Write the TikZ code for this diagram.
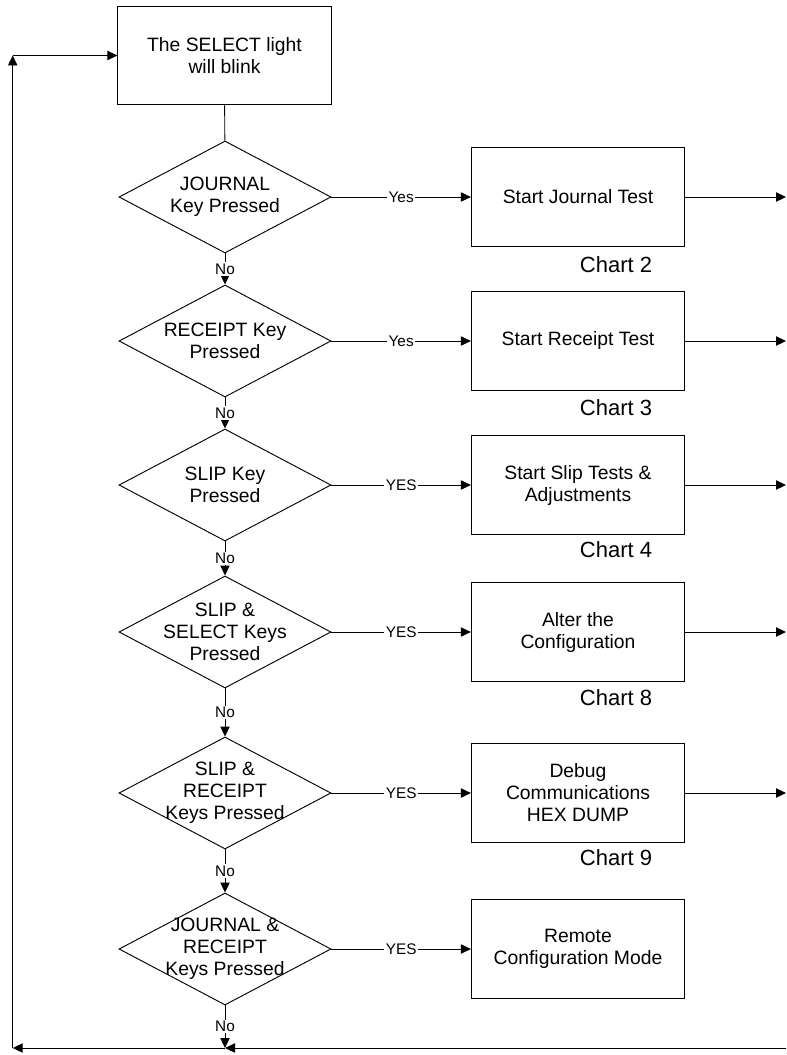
\documentclass[tikz,border=0pt]{standalone}
\usepackage{fontspec}
\setmainfont{Liberation Sans}
\usetikzlibrary{shapes.geometric, arrows.meta}

\tikzset{
	box/.style={draw, rectangle, minimum width=160pt, minimum height=74pt, align=center, font=\fontsize{14.5}{16.5}\selectfont},
	decision/.style={draw, diamond, minimum width=159pt, minimum height=84pt, inner sep=0pt},
	dtext/.style={align=center, font=\fontsize{14.5}{16.5}\selectfont},
	tag/.style={fill=white, inner sep=1pt, font=\fontsize{11.5}{13}\selectfont},
	chart/.style={font=\fontsize{16.5}{19}\selectfont},
	flow/.style={-{Triangle[length=7.5pt,width=7pt]}}
}

\begin{document}
\begin{tikzpicture}[x=0.75pt, y=-0.75pt, line width=0.7pt]
		\useasboundingbox (0,0) rectangle (786,1055);
		\node[box](top)at(224.5,55.5){The SELECT light\\will blink};
		% decisions down the left column
		\node[decision, label={[dtext]center:{JOURNAL\\Key Pressed}}](d1)at(225,197){};
		\node[decision, label={[dtext]center:{RECEIPT Key\\Pressed}}](d2)at(225,341){};
		\node[decision, label={[dtext]center:{SLIP Key\\Pressed}}](d3)at(225,485){};
		\node[decision, label={[dtext]center:{SLIP \&\\SELECT Keys\\Pressed}}](d4)at(225,632){};
		\node[decision, label={[dtext]center:{SLIP \&\\RECEIPT\\Keys Pressed}}](d5)at(225,793){};
		\node[decision, label={[dtext]center:{JOURNAL \&\\RECEIPT\\Keys Pressed}}](d6)at(225,949){};
		% tests on the right
		\node[box](b1)at(578,197){Start Journal Test};
		\node[box](b2)at(578,341){Start Receipt Test};
		\node[box](b3)at(578,485){Start Slip Tests \&\\Adjustments};
		\node[box](b4)at(578,632){Alter the\\Configuration};
		\node[box](b5)at(578,793){Debug\\Communications\\HEX DUMP};
		\node[box](b6)at(578,949){Remote\\Configuration Mode};
		\node[chart](c1)at(616,265){Chart 2};
		\node[chart](c2)at(616,408){Chart 3};
		\node[chart](c3)at(616,550){Chart 4};
		\node[chart](c4)at(616,698){Chart 8};
		\node[chart](c5)at(616,858){Chart 9};
		% loop back corners
		\coordinate(br)at(786,1048);
		\coordinate(bm)at(225,1048);
		\coordinate(bl)at(12.7,1048);
		\coordinate(tl)at(12.7,55.5);
		\draw(top)--(d1);
		\draw[flow](d1.east)--node[tag]{Yes}(b1.west);
		\draw[flow](d2.east)--node[tag]{Yes}(b2.west);
		\foreach \i in {3,...,6}
			\draw[flow](d\i.east)--node[tag]{YES}(b\i.west);
		\foreach \a/\b in {1/2,2/3,3/4,4/5,5/6}
			\draw[flow](d\a.south)--node[tag]{No}(d\b.north);
		\draw[flow](d6.south)--node[tag]{No}(bm);
		\foreach \i in {1,...,5}
			\draw[flow](b\i.east)--(b\i.east -| br);
		\draw[flow](br)--(bm);
		\draw[flow](bm)--(bl);
		\draw[flow](bl)--(tl);
		\draw[flow](tl)--(top.west);
	\end{tikzpicture}
\end{document}
